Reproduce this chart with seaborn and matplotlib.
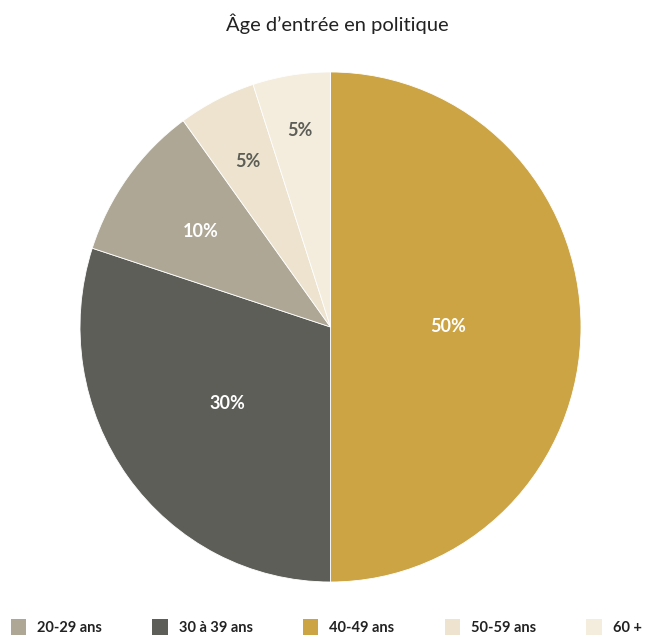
import matplotlib
matplotlib.use("Agg")
import numpy as np
import matplotlib.pyplot as plt
from matplotlib.patches import Patch
import seaborn as sns

# Age at entry into politics (share of respondents, %)
legend_order = ["20-29 ans", "30 à 39 ans", "40-49 ans", "50-59 ans", "60 +"]
slice_order = ["40-49 ans", "30 à 39 ans", "20-29 ans", "50-59 ans", "60 +"]
slice_values = [50, 30, 10, 5, 5]
palette = {
    "20-29 ans": "#aea796",
    "30 à 39 ans": "#5d5e57",
    "40-49 ans": "#cca444",
    "50-59 ans": "#ede3cf",
    "60 +": "#f4ecdd",
}
label_colors = {
    "20-29 ans": "white",
    "30 à 39 ans": "white",
    "40-49 ans": "white",
    "50-59 ans": "#5d5e57",
    "60 +": "#5d5e57",
}
# radial position of each percentage label (fraction of the radius)
label_radius = [0.47, 0.51, 0.64, 0.73, 0.78]

sns.set_theme(style="white")
plt.rcParams["font.family"] = ["Lato", "DejaVu Sans"]

fig = plt.figure(figsize=(6.56, 6.37), dpi=100)
ax = fig.add_axes([80 / 656, 55 / 637, 501 / 656, 510 / 637])

wedges, texts, autotexts = ax.pie(
    slice_values,
    colors=[palette[k] for k in slice_order],
    startangle=90,
    counterclock=False,
    autopct=lambda p: f"{p:.0f}%",
    wedgeprops=dict(linewidth=0.6, edgecolor="white"),
)
for w, t, k, r in zip(wedges, autotexts, slice_order, label_radius):
    mid = np.deg2rad((w.theta1 + w.theta2) / 2)
    t.set_position((r * np.cos(mid), r * np.sin(mid)))
    t.set_color(label_colors[k])
    t.set_fontsize(13)
    t.set_fontweight("bold")
ax.set_xlim(-1, 1)
ax.set_ylim(-1, 1)
ax.set_aspect("auto")
ax.axis("off")

fig.text(337 / 656, 1 - 24 / 637, "Âge d’entrée en politique",
         ha="center", va="center", fontsize=14.5, color="#222222")

handles = [Patch(facecolor=palette[k], edgecolor="none") for k in legend_order]
fig.legend(
    handles, legend_order,
    loc="center left", bbox_to_anchor=(11 / 656, 1 - 627 / 637),
    ncol=5, frameon=False,
    prop=dict(size=10.5, weight="bold"),
    handlelength=1.05, handleheight=1.25, handletextpad=0.75,
    columnspacing=3.45, borderaxespad=0, borderpad=0,
    labelcolor="#222222",
)

fig.savefig("out.png", dpi=100, facecolor="white")
